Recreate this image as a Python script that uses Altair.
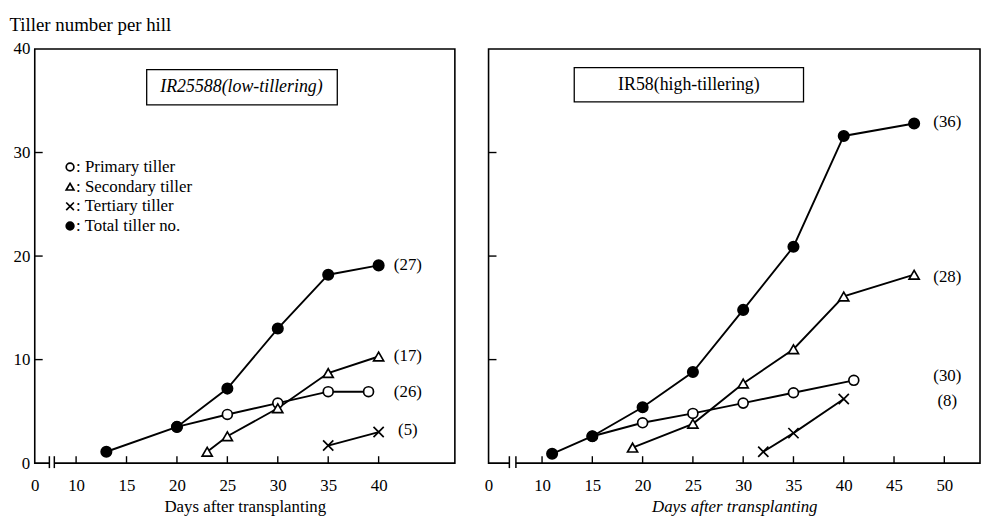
import altair as alt
import pandas as pd

FONT = "Liberation Serif"

# ---------------- IR25588 (low-tillering) ----------------
L_PRIMARY_DAYS = [20, 25, 30, 35, 39]
L_PRIMARY = [3.5, 4.7, 5.8, 6.9, 6.9]
L_SECONDARY_DAYS = [23, 25, 30, 35, 40]
L_SECONDARY = [1.1, 2.6, 5.3, 8.7, 10.3]
L_TERTIARY_DAYS = [35, 40]
L_TERTIARY = [1.7, 3.0]
L_TOTAL_DAYS = [13, 20, 25, 30, 35, 40]
L_TOTAL = [1.1, 3.5, 7.2, 13.0, 18.2, 19.1]
L_END_LABELS = ["(27)", "(17)", "(26)", "(5)"]
L_END_X = [42.9, 42.9, 42.9, 42.9]
L_END_Y = [19.1, 10.3, 6.9, 3.2]

# ---------------- IR58 (high-tillering) ----------------
R_PRIMARY_DAYS = [15, 20, 25, 30, 35, 41]
R_PRIMARY = [2.6, 3.9, 4.8, 5.8, 6.8, 8.0]
R_SECONDARY_DAYS = [19, 25, 30, 35, 40, 47]
R_SECONDARY = [1.5, 3.8, 7.7, 11.0, 16.1, 18.2]
R_TERTIARY_DAYS = [32, 35, 40]
R_TERTIARY = [1.1, 2.9, 6.2]
R_TOTAL_DAYS = [11, 15, 20, 25, 30, 35, 40, 47]
R_TOTAL = [0.9, 2.6, 5.4, 8.8, 14.8, 20.9, 31.6, 32.8]
R_END_LABELS = ["(36)", "(28)", "(30)", "(8)"]
R_END_X = [50.3, 50.3, 50.3, 50.3]
R_END_Y = [32.9, 18.0, 8.4, 6.0]

# ---------------- series styling / legend ----------------
SERIES = ["Primary tiller", "Secondary tiller", "Tertiary tiller", "Total tiller no."]
SHAPES = ["circle", "triangle-up", "M-1,-1L1,1M1,-1L-1,1", "circle"]
FILLS = ["white", "white", "white", "black"]
SIZES = [100, 110, 75, 130]
LEGEND_TEXT = [": Primary tiller", ": Secondary tiller", ": Tertiary tiller", ": Total tiller no."]
LEGEND_SYM_X = 9.4
LEGEND_TEXT_X = 10.0
LEGEND_Y = [28.6, 26.7, 24.8, 22.9]

# ---------------- axes ----------------
X_TICKS_L = [10, 15, 20, 25, 30, 35, 40]
X_TICKS_R = [10, 15, 20, 25, 30, 35, 40, 45, 50]
Y_TICKS = [10, 20, 30]
Y_LABELS = [0, 10, 20, 30, 40]
X_DOMAIN_L = [5.9, 47.56]
X_DOMAIN_R = [4.68, 53.55]
BREAK_L = [7.35, 7.84]
BREAK_R = [6.75, 7.40]

BOX_L = dict(x=17.0, x2=35.9, y=34.6, y2=38.0, tx=26.4, ty=36.3, text="IR25588(low-tillering)", italic=True)
BOX_R = dict(x=13.2, x2=36.0, y=34.9, y2=38.2, tx=24.6, ty=36.55, text="IR58(high-tillering)", italic=False)

H = 418
WL = 424
WR = 496


def xenc(field, dom, ticks, italic):
    return alt.X(
        f"{field}:Q",
        scale=alt.Scale(domain=dom, nice=False, zero=False),
        title="Days after transplanting",
        axis=alt.Axis(
            values=[dom[0]] + ticks,
            labelExpr="datum.value < 9 ? '0' : datum.label",
            ticks=False, domain=False, grid=False,
            labelFlush=False, labelOverlap=False,
            labelPadding=15, labelFontSize=17, labelFont=FONT, labelColor="black",
            titleFont=FONT, titleFontSize=17, titleFontWeight="normal",
            titleFontStyle="italic" if italic else "normal",
            titleColor="black", titlePadding=5,
        ),
    )


def yenc(field, show):
    if not show:
        return alt.Y(f"{field}:Q", scale=alt.Scale(domain=[0, 40], nice=False), axis=None)
    return alt.Y(
        f"{field}:Q",
        scale=alt.Scale(domain=[0, 40], nice=False),
        title="Tiller number per hill",
        axis=alt.Axis(
            values=Y_LABELS, ticks=False, domain=False, grid=False,
            labelFlush=False, labelOverlap=False, labelPadding=5,
            labelFontSize=17, labelFont=FONT, labelColor="black",
            titleFont=FONT, titleFontSize=19, titleFontWeight="normal", titleColor="black",
            titleAngle=0, titleAlign="left", titleBaseline="alphabetic",
            titleX=-26, titleY=-19,
        ),
    )


def panel(series_data, end_labels, end_x, end_y, box, xdom, xticks, brk, width, show_y, italic_title, legend):
    rows = []
    for name, (days, vals) in zip(SERIES, series_data):
        for d, v in zip(days, vals):
            rows.append({"day": d, "value": v, "series": name})
    df = pd.DataFrame(rows)

    shape_scale = alt.Scale(domain=SERIES, range=SHAPES)
    fill_scale = alt.Scale(domain=SERIES, range=FILLS)
    size_scale = alt.Scale(domain=SERIES, range=SIZES)

    X = lambda f: xenc(f, xdom, xticks, italic_title)
    Y = lambda f: yenc(f, show_y)

    layers = []

    # inward ticks
    xt = pd.DataFrame({"tick": xticks})
    layers.append(alt.Chart(xt).mark_rule(color="black", strokeWidth=1.4).encode(
        x=X("tick"), y=alt.value(H), y2=alt.value(H - 7)))
    yt = pd.DataFrame({"tick": Y_TICKS})
    layers.append(alt.Chart(yt).mark_rule(color="black", strokeWidth=1.4).encode(
        y=Y("tick"), x=alt.value(0), x2=alt.value(8)))

    # axis break
    bdf = pd.DataFrame({"b0": [brk[0]], "b1": [brk[1]]})
    layers.append(alt.Chart(bdf).mark_rule(color="white", strokeWidth=4).encode(
        x=X("b0"), x2="b1", y=alt.value(H)))
    bdf2 = pd.DataFrame({"b": brk})
    layers.append(alt.Chart(bdf2).mark_rule(color="black", strokeWidth=1.5).encode(
        x=X("b"), y=alt.value(H - 7), y2=alt.value(H + 5)))

    # lines
    layers.append(alt.Chart(df).mark_line(color="black", strokeWidth=1.9).encode(
        x=X("day"), y=Y("value"), detail="series:N", order="day:Q"))

    # markers
    layers.append(alt.Chart(df).mark_point(filled=True, stroke="black", strokeWidth=1.7, opacity=1).encode(
        x=X("day"), y=Y("value"),
        shape=alt.Shape("series:N", scale=shape_scale, legend=None),
        fill=alt.Fill("series:N", scale=fill_scale, legend=None),
        size=alt.Size("series:N", scale=size_scale, legend=None),
    ))

    # end labels
    edf = pd.DataFrame({"lx": end_x, "ly": end_y, "label": end_labels})
    layers.append(alt.Chart(edf).mark_text(font=FONT, fontSize=17, align="center", baseline="middle", color="black").encode(
        x=X("lx"), y=Y("ly"), text="label:N"))

    # variety box
    bx = pd.DataFrame([box])
    layers.append(alt.Chart(bx).mark_rect(fill="white", stroke="black", strokeWidth=1.3).encode(
        x=X("x"), x2="x2", y=Y("y"), y2="y2"))
    layers.append(alt.Chart(bx).mark_text(font=FONT, fontSize=18, align="center", baseline="middle", color="black",
                                          fontStyle="italic" if box["italic"] else "normal").encode(
        x=X("tx"), y=Y("ty"), text="text:N"))

    if legend:
        ldf = pd.DataFrame({"series": SERIES, "txt": LEGEND_TEXT, "ly": LEGEND_Y,
                            "sx": [LEGEND_SYM_X] * 4, "tx": [LEGEND_TEXT_X] * 4})
        layers.append(alt.Chart(ldf).mark_point(filled=True, stroke="black", strokeWidth=1.7, opacity=1, size=60).encode(
            x=X("sx"), y=Y("ly"),
            shape=alt.Shape("series:N", scale=shape_scale, legend=None),
            fill=alt.Fill("series:N", scale=fill_scale, legend=None),
        ))
        layers.append(alt.Chart(ldf).mark_text(font=FONT, fontSize=17, align="left", baseline="middle", color="black").encode(
            x=X("tx"), y=Y("ly"), text="txt:N"))

    return alt.layer(*layers).properties(width=width, height=H)


left = panel(
    [(L_PRIMARY_DAYS, L_PRIMARY), (L_SECONDARY_DAYS, L_SECONDARY),
     (L_TERTIARY_DAYS, L_TERTIARY), (L_TOTAL_DAYS, L_TOTAL)],
    L_END_LABELS, L_END_X, L_END_Y, BOX_L, X_DOMAIN_L, X_TICKS_L, BREAK_L, WL, True, False, True)

right = panel(
    [(R_PRIMARY_DAYS, R_PRIMARY), (R_SECONDARY_DAYS, R_SECONDARY),
     (R_TERTIARY_DAYS, R_TERTIARY), (R_TOTAL_DAYS, R_TOTAL)],
    R_END_LABELS, R_END_X, R_END_Y, BOX_R, X_DOMAIN_R, X_TICKS_R, BREAK_R, WR, False, True, False)

chart = alt.hconcat(left, right, spacing=27).properties(
    padding={"left": 0, "top": 4, "right": 0, "bottom": 0}
).configure(background="white").configure_view(stroke="black", strokeWidth=1.6)

chart.save("out.html", embed_options={"renderer": "svg", "actions": False})
